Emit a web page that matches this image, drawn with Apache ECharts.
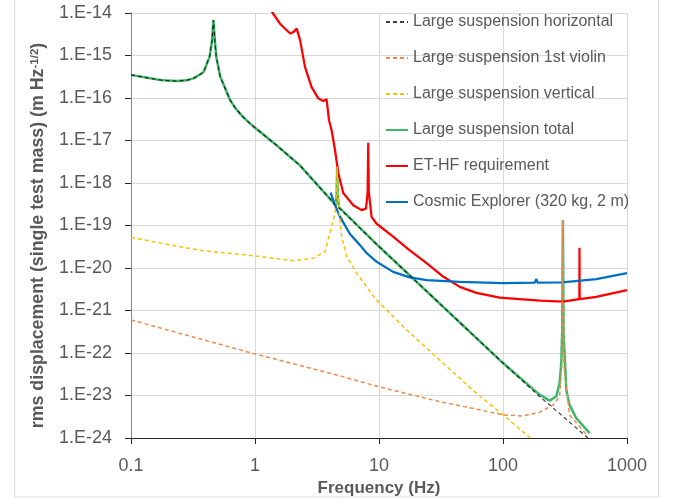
<!DOCTYPE html>
<html>
<head>
<meta charset="utf-8">
<script src="https://cdn.jsdelivr.net/npm/echarts@6/dist/echarts.min.js"></script>
<style>
html,body{margin:0;padding:0;background:#fff;}
#chart{width:679px;height:502px;}
#err{position:absolute;left:20px;top:300px;font:12px monospace;color:#c00;width:640px;white-space:pre-wrap;}
</style>
</head>
<body>
<div id="chart"></div>
<div id="err"></div>
<script>
window.onerror = function (m, s, l, c, e) { document.getElementById('err').textContent += m + ' @' + l + ':' + c + '\n'; };
// ---- data (frequency in Hz, rms displacement in m Hz^-1/2) ----
const xTickLabels = ['0.1', '1', '10', '100', '1000'];
const yTickLabels = ['1.E-24','1.E-23','1.E-22','1.E-21','1.E-20','1.E-19','1.E-18','1.E-17','1.E-16','1.E-15','1.E-14'];

const seriesNames = [
  'Large suspension horizontal',
  'Large suspension 1st violin',
  'Large suspension vertical',
  'Large suspension total',
  'ET-HF requirement',
  'Cosmic Explorer (320 kg, 2 m)'
];

const horizontal = [
  [0.1,3.5e-16],[0.143,2.9e-16],[0.18,2.6e-16],[0.234,2.5e-16],[0.28,2.6e-16],[0.319,2.9e-16],
  [0.35,3.4e-16],[0.385,4.1e-16],[0.43,9.3e-16],[0.45,2.2e-15],[0.462,6.8e-15],[0.475,2.2e-15],
  [0.487,9.3e-16],[0.524,3.2e-16],[0.63,8.9e-17],[0.7,5.6e-17],[0.807,3.5e-17],[0.9,2.6e-17],
  [1,2.0e-17],[1.5,7.6e-18],[2.3,2.6e-18],[4.27,3.5e-19],[10,3.2e-20],
  [100,5.8e-23],[197,9.5e-24],[269,4.4e-24],[484,1.0e-24]
];

const violin = [
  [0.1,6.0e-22],[1,9.5e-23],[4.84,2.9e-23],[10,1.6e-23],[30.7,7.2e-24],[65,4.6e-24],[100,3.5e-24],
  [145,3.3e-24],[197,4.0e-24],[253,6.0e-24],[286,9.5e-24],[298,5.0e-23],[304,1.35e-19],[310,5.0e-23],
  [344,3.5e-24],[414,1.86e-24],[484,1.1e-24]
];

const vertical = [
  [0.1,5.2e-20],[0.363,2.6e-20],[1.1,1.86e-20],[2.04,1.48e-20],[2.95,1.7e-20],[3.66,2.4e-20],
  [4.07,7.8e-20],[4.42,1.95e-19],[4.55,6.0e-19],[4.6,2.4e-18],[4.65,6.0e-19],[4.84,1.35e-19],
  [5.0,5.5e-20],[5.5,1.86e-20],[6.6,7.6e-21],[9.25,1.95e-21],[16.7,3.5e-22],[30.7,6.9e-23],
  [56.8,1.35e-23],[100,3.5e-24],[166,1.0e-24]
];

const total = [
  [0.1,3.5e-16],[0.143,2.9e-16],[0.18,2.6e-16],[0.234,2.5e-16],[0.28,2.6e-16],[0.319,2.9e-16],
  [0.35,3.4e-16],[0.385,4.1e-16],[0.43,9.3e-16],[0.45,2.2e-15],[0.462,6.8e-15],[0.475,2.2e-15],
  [0.487,9.3e-16],[0.524,3.2e-16],[0.63,8.9e-17],[0.7,5.6e-17],[0.807,3.5e-17],[0.9,2.6e-17],
  [1,2.0e-17],[1.5,7.6e-18],[2.3,2.6e-18],[4.27,3.5e-19],[4.45,3.0e-19],
  [4.55,5.0e-19],[4.6,2.4e-18],[4.65,5.0e-19],[4.75,2.7e-19],[10,3.2e-20],[100,5.8e-23],
  [197,1.05e-23],[238,7.6e-24],[269,9.5e-24],[286,1.95e-23],[295,5.8e-23],[300,3.0e-22],
  [304,1.35e-19],[308,3.0e-22],[324,1.35e-23],[344,6.0e-24],[389,2.95e-24],[499,1.3e-24]
];

const etHf = [
  [1.3,1.4e-14],[1.39,1.0e-14],[1.59,5.6e-15],[1.92,3.3e-15],[2.05,3.6e-15],[2.17,4.3e-15],
  [2.31,2.3e-15],[2.53,5.4e-16],[2.86,1.8e-16],[3.24,9.8e-17],[3.55,8.5e-17],[3.78,9.3e-17],
  [3.95,3.0e-17],[4.15,1.74e-17],[4.42,5.9e-18],[4.7,1.7e-18],[5.15,5.8e-19],[6.2,3.0e-19],
  [7.24,2.3e-19],[7.85,2.5e-19],[8.1,6.0e-19],[8.19,8.9e-18],[8.28,6.0e-19],[8.71,1.6e-19],
  [9.57,1.1e-19],[13,5.5e-20],[17.7,2.6e-20],[24.2,1.3e-20],[32.9,6.3e-21],[44.8,3.6e-21],
  [61,2.6e-21],[94,2.0e-21],[136,1.86e-21],[200,1.7e-21],[304,1.62e-21],[413,1.86e-21],
  [414,3.0e-20],[415,1.86e-21],[565,2.1e-21],[1000,3.0e-21]
];

const cosmicExplorer = [
  [4.07,5.9e-19],[4.42,3.0e-19],[4.84,1.62e-19],[5.83,6.3e-20],[7.0,3.5e-20],[8.0,2.2e-20],
  [9.57,1.4e-20],[13,8.1e-21],[17.7,6.0e-21],[24.2,5.2e-21],[44.8,4.7e-21],[100,4.4e-21],
  [180,4.5e-21],[186,5.5e-21],[190,4.5e-21],[300,4.6e-21],[565,5.5e-21],[1000,7.6e-21]
];

// The library's log scale loses precision on values ~1e-24, so the y axis works in
// units of 1e-24 m Hz^-1/2 (a pure unit change); tick labels map back to the originals.
const Y_UNIT = 1e-24;
function toUnits(arr) { return arr.map(function (p) { return [p[0], p[1] / Y_UNIT]; }); }

// ---- chart ----
const FONT = 'Liberation Sans';
const GREY = '#595959';
const chart = echarts.init(document.getElementById('chart'), null, {renderer: 'canvas'});

function lineSeries(name, data, color, width, dashed, z, opacity) {
  return {
    name: name, type: 'line', data: toUnits(data), symbol: 'none', showSymbol: false,
    smooth: false, clip: true, z: z,
    lineStyle: {color: color, width: width, type: dashed ? [4, 3] : 'solid', opacity: opacity == null ? 1 : opacity},
    itemStyle: {color: color},
    emphasis: {disabled: true}
  };
}

function yLabel(v) {
  const s = yTickLabels[Math.round(Math.log10(v))];
  return s === undefined ? '' : s;
}
function xLabel(v) {
  const s = xTickLabels[Math.round(Math.log10(v)) + 1];
  return s === undefined ? '' : s;
}

const option = {
  animation: false,
  backgroundColor: '#fff',
  grid: {left: 131, right: 52, top: 13, bottom: 64, containLabel: false},
  graphic: [{
    type: 'rect', z: -10, silent: true,
    shape: {x: 14.5, y: -5, width: 644, height: 502},
    style: {fill: 'none', stroke: '#d9d9d9', lineWidth: 1}
  }],
  legend: {
    orient: 'vertical', left: 385, top: 14, padding: 0,
    itemWidth: 22, itemHeight: 16, itemGap: 20,
    itemStyle: {opacity: 0},
    textStyle: {fontFamily: FONT, fontSize: 16, color: GREY},
    data: seriesNames
  },
  xAxis: {
    type: 'log', logBase: 10, min: 0.1, max: 1000, splitNumber: 4,
    name: 'Frequency (Hz)', nameLocation: 'middle', nameGap: 38,
    nameTextStyle: {fontFamily: FONT, fontSize: 17, fontWeight: 'bold', color: GREY},
    axisLine: {show: true, lineStyle: {color: '#262626', width: 1}},
    axisTick: {show: true, inside: false, length: 6, lineStyle: {color: '#262626'}},
    axisLabel: {margin: 19, fontFamily: FONT, fontSize: 18, color: GREY, formatter: xLabel},
    splitLine: {show: true, lineStyle: {color: '#d9d9d9', width: 1}}
  },
  yAxis: {
    type: 'log', logBase: 10, min: 1, max: 1e10, splitNumber: 10, interval: 1,
    name: 'rms displacement (single test mass) (m Hz{sup|-1/2})',
    nameLocation: 'middle', nameGap: 84,
    nameTextStyle: {
      fontFamily: FONT, fontSize: 17.8, fontWeight: 'bold', color: GREY,
      padding: [0, 20, 0, 0],
      rich: {sup: {fontFamily: FONT, fontSize: 11.5, fontWeight: 'bold', color: GREY, verticalAlign: 'top'}}
    },
    axisLine: {show: true, lineStyle: {color: '#868686', width: 1}},
    axisTick: {show: true, inside: false, length: 6, lineStyle: {color: '#262626'}},
    axisLabel: {margin: 19, fontFamily: FONT, fontSize: 18, color: GREY, formatter: yLabel},
    splitLine: {show: true, lineStyle: {color: '#d9d9d9', width: 1}}
  },
  series: [
    lineSeries(seriesNames[0], horizontal, '#000000', 1.2, true, 5, 0.75),
    lineSeries(seriesNames[1], violin, '#F08A4B', 1.5, true, 4),
    lineSeries(seriesNames[2], vertical, '#FFC000', 1.5, true, 4),
    lineSeries(seriesNames[3], total, '#3DB868', 2.5, false, 3),
    lineSeries(seriesNames[4], etHf, '#FF0000', 2.25, false, 3),
    lineSeries(seriesNames[5], cosmicExplorer, '#0070C0', 2.25, false, 3)
  ]
};
try {
  chart.setOption(option);
} catch (e) {
  document.getElementById('err').textContent += 'setOption: ' + e.message;
}
</script>
</body>
</html>
